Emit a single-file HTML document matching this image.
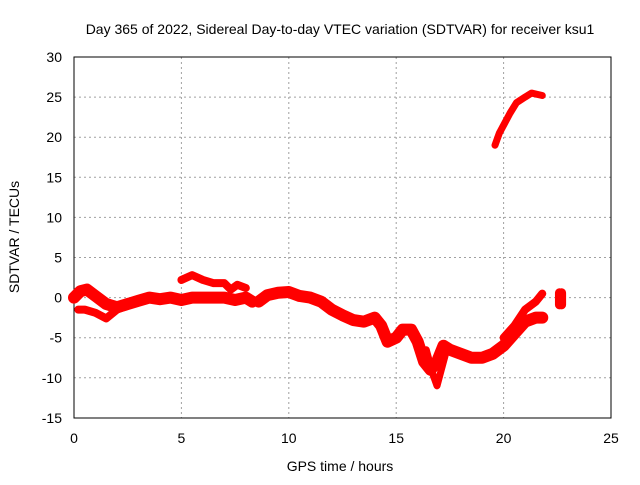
<!DOCTYPE html>
<html><head><meta charset="utf-8"><style>
body{margin:0;background:#fff;}
svg text{font-family:"Liberation Sans",sans-serif;font-size:14px;fill:#000;}
</style></head><body>
<svg width="640" height="480">
<rect width="640" height="480" fill="#fff"/>
<g id="grid"></g>
<g id="axes"></g>
<g id="series"></g>
<text x="340" y="34" text-anchor="middle">Day 365 of 2022, Sidereal Day-to-day VTEC variation (SDTVAR) for receiver ksu1</text>
<text x="340" y="471" text-anchor="middle">GPS time / hours</text>
<text transform="translate(19,237) rotate(-90)" text-anchor="middle">SDTVAR / TECUs</text>
</svg>
<script>
const xTicks=[0,5,10,15,20,25];
const yTicks=[-15,-10,-5,0,5,10,15,20,25,30];
const mainH=[0,0.3,0.6,1,1.5,2,2.5,3,3.5,4,4.5,5,5.5,6,6.5,7,7.5,8,8.3];
const mainV=[0,0.8,1.0,0.2,-0.8,-1.2,-0.8,-0.4,0,-0.2,0,-0.3,0,0,0,0,-0.3,0,-0.5];
const lowH=[0.2,0.5,1,1.5,2,2.5];
const lowV=[-1.5,-1.5,-1.9,-2.6,-1.5,-1.0];
const upH=[5,5.5,6,6.5,7,7.3,7.6,8];
const upV=[2.2,2.8,2.2,1.8,1.8,1.0,1.6,1.2];
const midH=[8.6,9,9.5,10,10.5,11,11.5,12,12.5,13,13.5,14,14.3,14.6,15,15.3,15.7,16,16.3,16.6,16.9,17.2,17.5,18,18.5,19,19.5,20,20.5,21,21.5,21.8];
const midV=[-0.5,0.3,0.6,0.7,0.2,0,-0.5,-1.5,-2.2,-2.8,-3.0,-2.5,-3.5,-5.5,-5,-4,-4,-5.5,-8,-9,-8,-6,-6.5,-7,-7.5,-7.5,-7,-6,-4.5,-3,-2.5,-2.5];
const dipH=[16.4,16.7,16.9,17.1,17.4];
const dipV=[-6.5,-9.5,-11,-9,-6];
const riseH=[20,20.5,21,21.5,21.8];
const riseV=[-5,-3.5,-1.5,-0.5,0.5];
const endH=[22.6,22.6,22.7,22.7];
const endV=[0.6,-0.9,0.6,-0.9];
const topH=[19.6,19.8,20,20.3,20.6,21,21.3,21.8];
const topV=[19,20.5,21.5,23,24.3,25,25.5,25.2];
const X=h=>74+h*21.48, Y=v=>297.6-v*8.02;
const NS="http://www.w3.org/2000/svg";
function mk(t,a,p){const e=document.createElementNS(NS,t);for(const k in a)e.setAttribute(k,a[k]);p.appendChild(e);return e;}
const g=document.getElementById('grid'),ax=document.getElementById('axes'),s=document.getElementById('series');
xTicks.forEach(t=>{
 if(t>0&&t<25){const l=mk('line',{x1:X(t),x2:X(t),y1:57,y2:418,stroke:'#a0a0a0','stroke-dasharray':'2,3'},g);
 
 }
 const tx=mk('text',{x:X(t),y:443,'text-anchor':'middle'},ax);tx.textContent=t;
 
 
});
yTicks.forEach(t=>{
 if(t>-15&&t<30){const l=mk('line',{x1:74,x2:611,y1:Y(t),y2:Y(t),stroke:'#a0a0a0','stroke-dasharray':'2,3'},g);
 
 }
 const tx=mk('text',{x:62,y:Y(t)+5,'text-anchor':'end'},ax);tx.textContent=t;
 
 
});
const fr=mk('rect',{x:74,y:57,width:537,height:361,fill:'none',stroke:'#000'},ax);


function line(H,V,name,w){
 const p=mk('polyline',{points:H.map((h,i)=>X(h)+','+Y(V[i])).join(' '),fill:'none',stroke:'#f00','stroke-width':w||11,'stroke-linejoin':'round','stroke-linecap':'round'},s);
 
 
}
line(mainH,mainV,'series-main',12);
line(lowH,lowV,'series-lower-branch',8);
line(upH,upV,'series-upper-branch',8);
line(midH,midV,'series-mid',12);
line(dipH,dipV,'series-dip',7);
line(riseH,riseV,'series-rise',8);
line(endH,endV,'series-end',9);
line(topH,topV,'series-top',7);
</script>
</body></html>
